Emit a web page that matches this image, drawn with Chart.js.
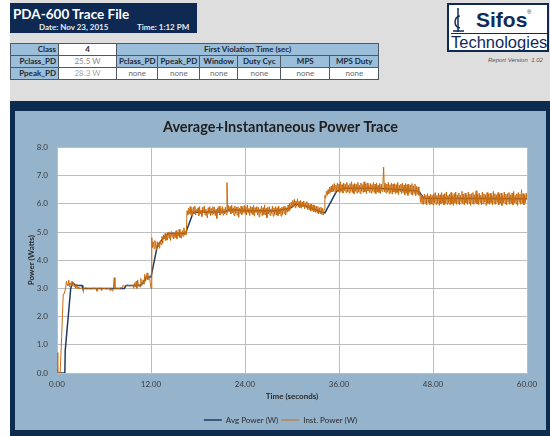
<!DOCTYPE html>
<html>
<head>
<meta charset="utf-8">
<script src="https://cdn.jsdelivr.net/npm/chart.js@4.4.0/dist/chart.umd.min.js"></script>
<style>
  body { margin: 0; width: 550px; height: 436px; background: #ffffff; position: relative; overflow: hidden; font-family: Lato, "Open Sans", sans-serif; }
  #topPanel { position: absolute; left: 10px; top: 0; width: 540px; height: 101px; background: #dedede; }
  #header { position: absolute; left: 10px; top: 3px; width: 187px; height: 30px; background: #0e2a52; color: #fff; }
  #header .name { position: absolute; left: 3px; top: 3px; font-size: 13.5px; font-weight: bold; }
  #header .date { position: absolute; left: 29px; top: 19px; font-size: 8px; font-weight: bold; color: #e8ecf2; }
  #header .time { position: absolute; left: 127px; top: 19px; font-size: 8px; font-weight: bold; color: #e8ecf2; }
  #info { position: absolute; left: 10px; top: 43px; border-collapse: collapse; table-layout: fixed; font-size: 8px; }
  #info td { border: 1px solid #4d5a66; padding: 0 2px; height: 11px; line-height: 11px; text-align: center; color: #1c2a38; white-space: nowrap; overflow: hidden; }
  #info td.lbl { background: #9bbedb; font-weight: bold; text-align: right; }
  #info td.hd { background: #9bbedb; font-weight: bold; }
  #info td.val { background: #fff; color: #8a8a8a; }
  #info td.none { background: #fff; color: #6a6a6a; }
  #logo { position: absolute; left: 447px; top: 3px; width: 98px; height: 45px; background: #fff; border: 2px solid #0e2a52; color: #0f2b5b; font-family: "Liberation Sans", Arial, sans-serif; }
  #logo .sifos { position: absolute; left: 27px; top: 3px; font-size: 21px; font-weight: bold; }
  #logo .reg { position: absolute; left: 78px; top: 4px; font-size: 6px; }
  #logo .rule { position: absolute; left: 2px; top: 28px; width: 96px; height: 1px; background: #0f2b5b; }
  #logo .tech { position: absolute; left: 2px; top: 28px; font-size: 16.5px; }
  #logo svg { position: absolute; left: 3px; top: 2px; }
  #version { position: absolute; left: 488px; top: 57px; font-size: 6px; font-style: italic; color: #555; font-family: "Liberation Sans", Arial, sans-serif; }
  #frame { position: absolute; left: 10px; top: 101px; width: 540px; height: 335px; background: #0d2a4f; }
  #panel { position: absolute; left: 15px; top: 111px; width: 531px; height: 319px; background: #95b3cb; }
  #chartBox { position: absolute; left: 15px; top: 111px; width: 531px; height: 327px; }
</style>
</head>
<body>
<div id="topPanel"></div>
<div id="header">
  <div class="name">PDA-600 Trace File</div>
  <div class="date">Date: Nov 23, 2015</div>
  <div class="time">Time: 1:12 PM</div>
</div>
<table id="info">
  <colgroup>
    <col style="width:48px"><col style="width:58px"><col style="width:41px"><col style="width:41px">
    <col style="width:38px"><col style="width:43px"><col style="width:49px"><col style="width:49px">
  </colgroup>
  <tr><td class="lbl">Class</td><td style="background:#fff;font-weight:bold">4</td><td class="hd" colspan="6">First Violation Time (sec)</td></tr>
  <tr><td class="lbl">Pclass_PD</td><td class="val">25.5 W</td><td class="hd">Pclass_PD</td><td class="hd">Ppeak_PD</td><td class="hd">Window</td><td class="hd">Duty Cyc</td><td class="hd">MPS</td><td class="hd">MPS Duty</td></tr>
  <tr><td class="lbl">Ppeak_PD</td><td class="val" style="color:#a8a8a8">28.3 W</td><td class="none">none</td><td class="none">none</td><td class="none">none</td><td class="none">none</td><td class="none">none</td><td class="none">none</td></tr>
</table>
<div id="logo">
  <svg width="14" height="26" viewBox="0 0 14 26">
    <line x1="6" y1="1" x2="6" y2="25" stroke="#0f2b5b" stroke-width="1.5"/>
    <path d="M8 9 A5 6 0 1 0 8 21" fill="none" stroke="#0f2b5b" stroke-width="1.5"/>
    <line x1="1" y1="24" x2="12" y2="24" stroke="#0f2b5b" stroke-width="1.5"/>
  </svg>
  <div class="sifos">Sifos</div>
  <div class="reg">&reg;</div>
  <div class="rule"></div>
  <div class="tech">Technologies</div>
</div>
<div id="version">Report Version &nbsp;1.02</div>
<div id="frame"></div>
<div id="panel"></div>
<div id="chartBox"><canvas id="traceChart" width="531" height="327"></canvas></div>

<script>
// sample spacing of the instantaneous trace (seconds)
const instStep = 0.1;

// Inst. Power (W), one value every 0.1 s from 0.0 to 60.0 (one row = 1 s)
const instPower = [
  0.72, 0, 0, 0, 0, 0, 1.3, 2.1, 2.8, 2.8,
  2.8, 3.0, 3.25, 3.15, 3.1, 3.3, 3.05, 3.2, 3.1, 3.25,
  3.1, 3.2, 3.05, 3.1, 3.0, 3.15, 3.0, 3.05, 2.98, 3.0,
  3.0, 3.02, 2.98, 3.0, 3.0, 3.0, 3.02, 3.0, 2.98, 3.0,
  3.0, 3.0, 3.0, 2.98, 3.0, 3.0, 3.0, 3.02, 3.0, 3.0,
  3.0, 2.9, 3.0, 3.0, 3.0, 3.02, 3.0, 2.92, 3.0, 3.0,
  3.0, 3.0, 3.0, 2.98, 3.0, 3.0, 3.0, 3.0, 2.92, 3.0,
  3.0, 2.9, 3.0, 3.38, 3.0, 3.0, 3.0, 3.0, 3.0, 3.0,
  3.0, 3.02, 3.0, 3.05, 3.1, 3.1, 3.08, 3.1, 3.1, 3.1,
  3.12, 3.1, 3.1, 3.08, 3.1, 3.1, 3.12, 3.1, 3.0, 3.2,
  3.05, 3.25, 3.0, 3.3, 3.1, 3.15, 3.05, 3.35, 3.1, 3.2,
  3.3, 3.15, 3.5, 3.25, 3.35, 3.55, 3.3, 3.4, 3.45, 3.2,
  3.0, 4.8, 4.45, 4.65, 4.4, 4.7, 4.5, 4.38, 4.66, 4.48,
  4.62, 4.42, 4.7, 4.55, 4.85, 4.6, 4.9, 4.75, 4.95, 4.7,
  4.92, 4.72, 5.0, 4.78, 4.96, 4.7, 5.02, 4.82, 4.98, 4.75,
  4.95, 4.8, 5.05, 4.76, 5.0, 4.85, 5.1, 4.8, 4.98, 4.78,
  5.05, 4.85, 5.15, 4.9, 5.0, 4.9, 5.75, 5.6, 5.85, 5.65,
  5.9, 5.62, 5.82, 5.58, 5.88, 5.66, 5.92, 5.6, 5.8, 5.7,
  5.86, 5.58, 5.9, 5.64, 5.78, 5.55, 5.88, 5.68, 5.92, 5.6,
  5.82, 5.62, 5.5, 5.86, 5.66, 5.9, 5.58, 5.84, 5.62, 5.9,
  5.64, 5.88, 5.58, 5.8, 5.48, 5.86, 5.7, 5.92, 5.6, 5.84,
  5.66, 5.9, 5.6, 5.82, 5.64, 5.88, 5.62, 6.75, 5.7, 5.94,
  5.72, 5.9, 5.64, 5.95, 5.68, 5.86, 5.58, 5.92, 5.66, 5.88,
  5.6, 5.9, 5.52, 5.84, 5.66, 5.92, 5.62, 5.86, 5.7, 5.94,
  5.64, 5.9, 5.6, 5.96, 5.68, 5.84, 5.58, 5.92, 5.66, 5.88,
  5.62, 5.94, 5.56, 5.86, 5.7, 5.9, 5.6, 5.88, 5.54, 5.82,
  5.66, 5.92, 5.58, 5.86, 5.62, 5.96, 5.6, 5.84, 5.5, 5.88,
  5.64, 5.9, 5.58, 5.82, 5.66, 5.92, 5.56, 5.86, 5.62, 5.9,
  5.6, 5.86, 5.58, 5.92, 5.64, 5.84, 5.56, 5.88, 5.62, 5.9,
  5.66, 5.92, 5.6, 5.86, 5.7, 5.96, 5.74, 6.02, 5.8, 6.06,
  5.88, 6.12, 5.9, 6.16, 5.86, 6.1, 5.92, 6.18, 5.88, 6.08,
  5.86, 6.12, 5.84, 6.06, 5.9, 6.1, 5.82, 6.04, 5.86, 6.08,
  5.8, 6.02, 5.78, 5.98, 5.74, 6.0, 5.76, 5.96, 5.72, 5.94,
  5.7, 5.92, 5.68, 5.9, 5.64, 5.86, 5.66, 5.88, 5.62, 5.84,
  5.6, 5.8, 6.3, 6.2, 6.45, 6.3, 6.5, 6.36, 6.6, 6.4,
  6.62, 6.42, 6.68, 6.44, 6.72, 6.4, 6.66, 6.46, 6.74, 6.42,
  6.7, 6.4, 6.78, 6.44, 6.68, 6.38, 6.74, 6.46, 6.7, 6.4,
  6.76, 6.42, 6.66, 6.38, 6.72, 6.44, 6.78, 6.4, 6.68, 6.36,
  6.72, 6.44, 6.7, 6.38, 6.76, 6.42, 6.66, 6.36, 6.74, 6.44,
  6.68, 6.4, 6.78, 6.42, 6.7, 6.36, 6.74, 6.46, 6.66, 6.4,
  6.72, 6.38, 6.68, 6.44, 6.76, 6.4, 6.7, 6.36, 6.74, 6.42,
  6.66, 6.4, 6.72, 6.36, 6.7, 6.44, 6.68, 7.3, 6.42, 6.74,
  6.38, 6.7, 6.42, 6.76, 6.36, 6.68, 6.4, 6.74, 6.34, 6.7,
  6.42, 6.72, 6.36, 6.68, 6.4, 6.76, 6.32, 6.66, 6.44, 6.7,
  6.36, 6.74, 6.4, 6.66, 6.32, 6.72, 6.38, 6.68, 6.3, 6.7,
  6.4, 6.66, 6.34, 6.72, 6.3, 6.64, 6.36, 6.7, 6.28, 6.62,
  6.34, 6.6, 6.3, 6.44, 6.05, 6.32, 6.0, 6.28, 5.98, 6.34,
  6.02, 6.3, 5.96, 6.36, 6.04, 6.28, 5.98, 6.34, 6.0, 6.3,
  5.96, 6.36, 6.04, 6.4, 5.98, 6.3, 6.02, 6.38, 5.94, 6.32,
  6.0, 6.4, 6.04, 6.32, 5.96, 6.36, 6.02, 6.42, 5.98, 6.3,
  6.04, 6.34, 5.96, 6.4, 6.0, 6.3, 5.94, 6.36, 6.04, 6.42,
  5.98, 6.32, 6.02, 6.38, 5.96, 6.3, 6.06, 6.44, 6.0, 6.34,
  5.96, 6.38, 6.04, 6.3, 5.98, 6.42, 6.02, 6.34, 5.94, 6.36,
  6.02, 6.4, 5.98, 6.32, 6.04, 6.46, 6.0, 6.34, 5.96, 6.38,
  6.04, 6.3, 5.96, 6.42, 6.0, 6.36, 6.06, 6.32, 5.94, 6.4,
  6.02, 6.34, 5.98, 6.38, 6.04, 6.3, 5.96, 6.44, 6.02, 6.36,
  5.98, 6.32, 6.04, 6.4, 5.96, 6.34, 6.02, 6.38, 5.94, 6.3,
  6.04, 6.42, 6.0, 6.34, 5.96, 6.36, 6.06, 6.4, 5.98, 6.32,
  6.02, 6.38, 5.96, 6.44, 6.04, 6.3, 6.0, 6.36, 5.94, 6.4,
  6.06, 6.34, 5.98, 6.5, 6.02, 6.36, 5.96, 6.32, 6.04, 6.38,
  6.15
];

// Avg Power (W) breakpoints
const avgTimes = [0, 1.0, 1.05, 1.75, 2.0, 2.4, 3.2, 3.3, 8.6, 8.8, 10.6, 11.0, 11.4, 12.0, 12.8, 13.6, 14.2, 16.4, 17.4, 21.5, 22.0, 24.0, 28.0, 29.8, 30.5, 32.0, 33.8, 34.2, 35.7, 36.5, 41.0, 44.0, 46.2, 46.8, 60.0];
const avgPower = [0, 0, 0.8, 3.0, 3.2, 3.1, 3.1, 3.0, 3.0, 3.1, 3.1, 3.2, 3.4, 3.4, 4.5, 4.8, 4.95, 4.95, 5.7, 5.72, 5.8, 5.75, 5.75, 5.85, 6.0, 5.9, 5.7, 5.68, 6.45, 6.55, 6.55, 6.5, 6.45, 6.2, 6.18];

const seriesNames = ["Avg Power (W)", "Inst. Power (W)"];
const xTicks = [0, 12, 24, 36, 48, 60];
const yTicks = [0, 1, 2, 3, 4, 5, 6, 7, 8];

const navy = "#1f3b63";
const orange = "#c86c10";

const plotBackground = {
  id: "plotBackground",
  beforeDraw(chart) {
    const a = chart.chartArea;
    const ctx = chart.ctx;
    ctx.save();
    ctx.fillStyle = "#ffffff";
    ctx.fillRect(a.left, a.top, a.right - a.left, a.bottom - a.top);
    ctx.restore();
  }
};

const ctx = document.getElementById("traceChart").getContext("2d");
new Chart(ctx, {
  type: "line",
  data: {
    datasets: [
      {
        label: seriesNames[0],
        data: avgTimes.map((t, i) => ({ x: t, y: avgPower[i] })),
        borderColor: navy,
        backgroundColor: navy,
        borderWidth: 1.5,
        pointRadius: 0,
        order: 1
      },
      {
        label: seriesNames[1],
        data: instPower.map((v, i) => ({ x: i * instStep, y: v })),
        borderColor: orange,
        backgroundColor: orange,
        borderWidth: 1,
        pointRadius: 0,
        order: 0
      }
    ]
  },
  plugins: [plotBackground],
  options: {
    responsive: false,
    animation: false,
    layout: { padding: { left: 0, right: 0, top: 0, bottom: 4 } },
    plugins: {
      title: {
        display: true,
        text: "Average+Instantaneous Power Trace",
        color: "#1e1e1e",
        font: { family: "Lato", size: 14.5, weight: "bold" },
        padding: { top: 8, bottom: 11 }
      },
      legend: {
        position: "bottom",
        labels: {
          usePointStyle: true,
          pointStyle: "line",
          pointStyleWidth: 18,
          padding: 3,
          color: "#2a2a2a",
          font: { family: "Lato", size: 8 },
          sort: (a, b) => a.datasetIndex - b.datasetIndex
        }
      },
      tooltip: { enabled: false }
    },
    scales: {
      x: {
        type: "linear",
        min: 0,
        max: 60,
        afterBuildTicks: (axis) => { axis.ticks = xTicks.map(v => ({ value: v })); },
        afterFit: (axis) => { axis.height = 40; },
        grid: { color: "#bdbdbd", drawTicks: false },
        border: { color: "#bdbdbd" },
        ticks: {
          color: "#3a3a3a",
          padding: 7,
          maxRotation: 0,
          font: { family: "Lato", size: 8 },
          callback: (v) => Number(v).toFixed(2)
        },
        title: {
          display: true,
          text: "Time (seconds)",
          color: "#2a2a2a",
          font: { family: "Lato", size: 8, weight: "bold" },
          padding: { top: 0, bottom: 12 }
        }
      },
      y: {
        min: 0,
        max: 8,
        afterBuildTicks: (axis) => { axis.ticks = yTicks.map(v => ({ value: v })); },
        afterFit: (axis) => { axis.width = 42; },
        grid: { color: "#bdbdbd", drawTicks: false },
        border: { color: "#bdbdbd" },
        ticks: {
          color: "#3a3a3a",
          padding: 9,
          font: { family: "Lato", size: 8 },
          callback: (v) => Number(v).toFixed(1)
        },
        title: {
          display: true,
          text: "Power (Watts)",
          color: "#2a2a2a",
          font: { family: "Lato", size: 8, weight: "bold" },
          padding: { top: 12, bottom: 0 }
        }
      },
      // empty axis that only reserves the gap right of the plot
      spacer: {
        type: "linear",
        position: "right",
        display: true,
        afterFit: (axis) => { axis.width = 19; },
        grid: { display: false },
        ticks: { display: false },
        border: { display: false }
      }
    }
  }
});
</script>
</body>
</html>
